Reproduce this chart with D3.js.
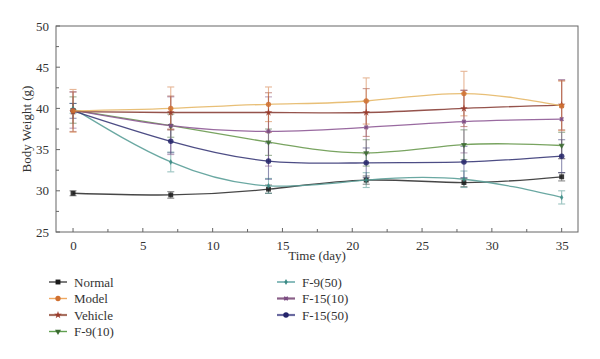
<!DOCTYPE html>
<html><head><meta charset="utf-8">
<script src="https://cdn.jsdelivr.net/npm/d3@7"></script>
<style>body{margin:0;background:#fff}svg{display:block}</style>
</head><body><svg id="c" width="600" height="359"></svg>
<script>
const days = [0, 7, 14, 21, 28, 35];
const seriesNames = ["Normal","Model","Vehicle","F-9(10)","F-9(50)","F-15(10)","F-15(50)"];
const normal   = [29.7, 29.5, 30.2, 31.3, 31.0, 31.7];
const model    = [39.7, 40.0, 40.5, 40.9, 41.8, 40.3];
const vehicle  = [39.6, 39.5, 39.5, 39.5, 40.0, 40.4];
const f9_10    = [39.8, 37.9, 35.9, 34.6, 35.6, 35.5];
const f9_50    = [40.0, 33.5, 30.6, 31.3, 31.4, 29.2];
const f15_10   = [39.8, 37.9, 37.2, 37.7, 38.4, 38.7];
const f15_50   = [39.7, 36.0, 33.6, 33.4, 33.5, 34.2];
const normalErr  = [0.3, 0.4, 0.5, 0.5, 0.5, 0.5];
const modelErr   = [2.6, 2.6, 2.1, 2.8, 2.7, 3.0];
const vehicleErr = [2.4, 2.0, 2.4, 2.9, 2.2, 3.0];
const f9_10Err   = [1.6, 1.4, 1.6, 1.6, 1.8, 1.6];
const f9_50Err   = [0.6, 1.2, 0.9, 0.9, 1.0, 0.8];
const f15_10Err  = [2.2, 3.5, 4.2, 3.2, 3.8, 4.8];
const f15_50Err  = [0.9, 1.4, 2.2, 1.8, 1.9, 2.0];
const xTicks = [0, 5, 10, 15, 20, 25, 30, 35];
const yTicks = [25, 30, 35, 40, 45, 50];

const FONT = '"Liberation Serif","Times New Roman","DejaVu Serif",serif';
const values = [normal, model, vehicle, f9_10, f9_50, f15_10, f15_50];
const errs = [normalErr, modelErr, vehicleErr, f9_10Err, f9_50Err, f15_10Err, f15_50Err];
const lineColors = ["#333333","#e6b868","#8a4038","#6a9a50","#5a9e98","#8e5a96","#3a3a78"];
const markColors = ["#1a1a1a","#d07030","#9a3a2a","#3a6a30","#3a8a84","#7a4a82","#24246a"];
const legLine = ["#444","#f0a860","#a87060","#60a050","#58a0a0","#8a6088","#6a6aa0"];
const shapes = [d3.symbolSquare, d3.symbolCircle, d3.symbolStar, d3.symbolTriangle, d3.symbolDiamond, d3.symbolCross, d3.symbolCircle];
const sizes = [24, 22, 18, 16, 10, 14, 24];
const rot = [0,0,0,180,0,45,0];

const svg = d3.select("#c");
const m = {l:56, r:578, t:26, b:232};
const x = d3.scaleLinear().domain([-1.22, 36.17]).range([m.l, m.r]);
const y = d3.scaleLinear().domain([25, 50]).range([m.b, m.t]);

svg.append("rect").attr("x", m.l).attr("y", m.t).attr("width", m.r-m.l).attr("height", m.b-m.t)
  .attr("fill","none").attr("stroke","#666").attr("stroke-width",1);

const xa = svg.append("g").attr("transform",`translate(0,${m.b})`);
xa.call(d3.axisBottom(x).tickValues(xTicks).tickSize(0).tickPadding(9).tickFormat(d3.format("d")));
xa.select(".domain").remove();
xa.selectAll("text").style("font-family",FONT).style("font-size","13px").style("fill","#333");
const xMinor = d3.range(0, 36, 2.5);
svg.selectAll(".xt").data(xMinor).join("line")
  .attr("x1", d=>x(d)).attr("x2", d=>x(d)).attr("y1", m.b).attr("y2", d=> m.b - (d%5===0?4:3))
  .attr("stroke","#666");
const ya = svg.append("g").attr("transform",`translate(${m.l},0)`);
ya.call(d3.axisLeft(y).tickValues(yTicks).tickSize(0).tickPadding(7));
ya.select(".domain").remove();
ya.selectAll("text").style("font-family",FONT).style("font-size","13px").style("fill","#333");
const yMinor = d3.range(25, 50.1, 2.5);
svg.selectAll(".yt").data(yMinor).join("line")
  .attr("y1", d=>y(d)).attr("y2", d=>y(d)).attr("x1", m.l).attr("x2", d=> m.l + (d%5===0?4:3))
  .attr("stroke","#666");

svg.append("text").attr("x", 317).attr("y", 260).attr("text-anchor","middle")
  .style("font-family",FONT).style("font-size","13px").style("fill","#333").text("Time (day)");
svg.append("text").attr("transform","translate(31,129) rotate(-90)").attr("text-anchor","middle")
  .style("font-family",FONT).style("font-size","13px").style("fill","#333").text("Body Weight (g)");

const line = d3.line().x((d,i)=>x(days[i])).y(d=>y(d)).curve(d3.curveNatural);
const order = [0,4,6,3,5,2,1];
order.forEach(s=>{
  const g = svg.append("g").attr("stroke", markColors[s]).attr("opacity",0.5).attr("stroke-width",1.1);
  values[s].forEach((v,i)=>{
    const e = errs[s][i], cx = x(days[i]);
    g.append("line").attr("x1",cx).attr("x2",cx).attr("y1",y(v-e)).attr("y2",y(v+e));
    g.append("line").attr("x1",cx-3.5).attr("x2",cx+3.5).attr("y1",y(v-e)).attr("y2",y(v-e));
    g.append("line").attr("x1",cx-3.5).attr("x2",cx+3.5).attr("y1",y(v+e)).attr("y2",y(v+e));
  });
});
order.forEach(s=>{
  svg.append("path").datum(values[s]).attr("d", line).attr("fill","none")
    .attr("stroke", lineColors[s]).attr("stroke-width",1.3).attr("opacity",0.9);
  svg.selectAll(null).data(values[s]).join("path")
    .attr("d", d3.symbol().type(shapes[s]).size(sizes[s]))
    .attr("transform",(d,i)=>`translate(${x(days[i])},${y(d)}) rotate(${rot[s]})`)
    .attr("fill", markColors[s]).attr("opacity",0.85);
});

const legPos = [[49,282],[49,298.5],[49,315],[49,331.5],[277,282],[277,298.5],[277,315]];
seriesNames.forEach((n,s)=>{
  const [lx,ly] = legPos[s];
  svg.append("line").attr("x1",lx).attr("x2",lx+18).attr("y1",ly).attr("y2",ly)
    .attr("stroke",legLine[s]).attr("stroke-width", s===2||s===5||s===6 ? 2.2 : 1.4);
  svg.append("path").attr("d", d3.symbol().type(shapes[s]).size(sizes[s]))
    .attr("transform",`translate(${lx+9},${ly}) rotate(${rot[s]})`).attr("fill",markColors[s]);
  svg.append("text").attr("x", lx+25).attr("y", ly+4.5)
    .style("font-family",FONT).style("font-size","13px").style("fill","#333").text(n);
});
</script></body></html>
